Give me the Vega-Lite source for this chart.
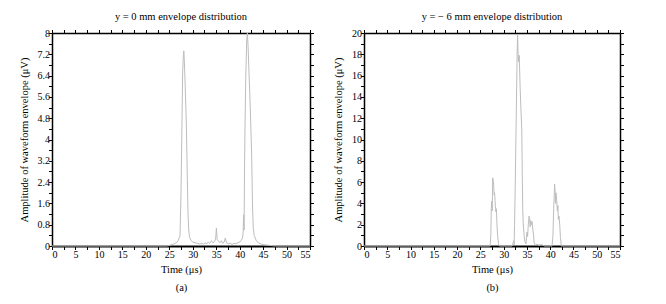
{
  "$schema": "https://vega.github.io/schema/vega-lite/v6.json",
  "padding": {"left": 19, "top": 11, "right": 5, "bottom": 5},
  "spacing": 19,
  "datasets": {
    "a": [
      {"t": 0, "v": 0}, {"t": 10, "v": 0}, {"t": 20, "v": 0}, {"t": 24.5, "v": 0},
      {"t": 25, "v": 0.02}, {"t": 25.5, "v": 0.05}, {"t": 26, "v": 0.08}, {"t": 26.5, "v": 0.12},
      {"t": 26.9, "v": 0.2}, {"t": 27.1, "v": 0.3}, {"t": 27.3, "v": 0.4}, {"t": 27.5, "v": 2.0},
      {"t": 27.7, "v": 4.5}, {"t": 27.85, "v": 6.5}, {"t": 28.0, "v": 7.15}, {"t": 28.1, "v": 7.33},
      {"t": 28.2, "v": 7.0}, {"t": 28.4, "v": 6.0}, {"t": 28.65, "v": 4.5}, {"t": 28.85, "v": 2.5},
      {"t": 29.0, "v": 1.2}, {"t": 29.15, "v": 0.6}, {"t": 29.3, "v": 0.35}, {"t": 29.6, "v": 0.22},
      {"t": 30, "v": 0.15}, {"t": 30.5, "v": 0.12}, {"t": 31, "v": 0.1}, {"t": 31.5, "v": 0.08},
      {"t": 32, "v": 0.1}, {"t": 32.3, "v": 0.06}, {"t": 32.6, "v": 0.12}, {"t": 33, "v": 0.08},
      {"t": 33.3, "v": 0.15}, {"t": 33.6, "v": 0.1}, {"t": 34, "v": 0.2}, {"t": 34.3, "v": 0.12},
      {"t": 34.7, "v": 0.18}, {"t": 34.9, "v": 0.3}, {"t": 35.05, "v": 0.68}, {"t": 35.2, "v": 0.25},
      {"t": 35.5, "v": 0.18}, {"t": 35.8, "v": 0.12}, {"t": 36.1, "v": 0.2}, {"t": 36.4, "v": 0.1},
      {"t": 36.7, "v": 0.15}, {"t": 36.95, "v": 0.3}, {"t": 37.2, "v": 0.12}, {"t": 37.6, "v": 0.08},
      {"t": 38, "v": 0.1}, {"t": 38.4, "v": 0.06}, {"t": 38.8, "v": 0.1}, {"t": 39.2, "v": 0.08},
      {"t": 39.6, "v": 0.12}, {"t": 40, "v": 0.15}, {"t": 40.3, "v": 0.2}, {"t": 40.6, "v": 0.3},
      {"t": 40.75, "v": 0.5}, {"t": 40.85, "v": 1.17}, {"t": 40.95, "v": 0.6}, {"t": 41.05, "v": 3.0},
      {"t": 41.15, "v": 4.5}, {"t": 41.3, "v": 6.3}, {"t": 41.5, "v": 7.7}, {"t": 41.65, "v": 8.0},
      {"t": 41.8, "v": 7.5}, {"t": 42.0, "v": 6.5}, {"t": 42.3, "v": 5.0}, {"t": 42.55, "v": 3.5},
      {"t": 42.75, "v": 1.5}, {"t": 42.9, "v": 0.7}, {"t": 43.1, "v": 0.4}, {"t": 43.5, "v": 0.22},
      {"t": 44, "v": 0.12}, {"t": 44.5, "v": 0.08}, {"t": 45, "v": 0.05}, {"t": 46, "v": 0.03},
      {"t": 47, "v": 0.01}, {"t": 48, "v": 0}, {"t": 55, "v": 0}
    ],
    "b": [
      {"t": 0, "v": 0}, {"t": 27.1, "v": 0}, {"t": 27.25, "v": 1.0}, {"t": 27.35, "v": 3.5},
      {"t": 27.45, "v": 4.2}, {"t": 27.55, "v": 3.3}, {"t": 27.65, "v": 6.4}, {"t": 27.75, "v": 6.2},
      {"t": 27.85, "v": 5.8}, {"t": 27.95, "v": 4.8}, {"t": 28.05, "v": 5.0}, {"t": 28.15, "v": 4.3},
      {"t": 28.25, "v": 3.5}, {"t": 28.35, "v": 3.2}, {"t": 28.45, "v": 3.5}, {"t": 28.55, "v": 2.2},
      {"t": 28.7, "v": 1.0}, {"t": 28.9, "v": 0.2}, {"t": 29.1, "v": 0}, {"t": 31.8, "v": 0},
      {"t": 32.0, "v": 0.2}, {"t": 32.15, "v": 0.5}, {"t": 32.25, "v": 0.1}, {"t": 32.35, "v": 2.0},
      {"t": 32.5, "v": 6.0}, {"t": 32.7, "v": 12}, {"t": 32.9, "v": 18}, {"t": 33.0, "v": 19.8},
      {"t": 33.1, "v": 18.1}, {"t": 33.2, "v": 17.3}, {"t": 33.35, "v": 17.9}, {"t": 33.55, "v": 14.8},
      {"t": 33.75, "v": 12.5}, {"t": 33.9, "v": 10.9}, {"t": 34.0, "v": 6.8}, {"t": 34.1, "v": 3.5},
      {"t": 34.2, "v": 2.2}, {"t": 34.4, "v": 1.0}, {"t": 34.55, "v": 0.4}, {"t": 34.8, "v": 0.2},
      {"t": 35.0, "v": 1.3}, {"t": 35.15, "v": 0.9}, {"t": 35.3, "v": 2.0}, {"t": 35.45, "v": 2.8},
      {"t": 35.6, "v": 2.6}, {"t": 35.7, "v": 1.8}, {"t": 35.8, "v": 2.4}, {"t": 35.95, "v": 2.0},
      {"t": 36.1, "v": 2.3}, {"t": 36.25, "v": 1.6}, {"t": 36.4, "v": 1.2}, {"t": 36.55, "v": 0.3},
      {"t": 36.8, "v": 0.1}, {"t": 37.2, "v": 0.15}, {"t": 37.6, "v": 0.08}, {"t": 38, "v": 0.12},
      {"t": 38.4, "v": 0.1}, {"t": 38.7, "v": 0}, {"t": 40.4, "v": 0}, {"t": 40.6, "v": 1.0},
      {"t": 40.75, "v": 3.5}, {"t": 40.85, "v": 4.5}, {"t": 40.95, "v": 5.8}, {"t": 41.05, "v": 5.2},
      {"t": 41.15, "v": 4.0}, {"t": 41.25, "v": 5.0}, {"t": 41.4, "v": 4.3}, {"t": 41.55, "v": 3.3},
      {"t": 41.65, "v": 3.8}, {"t": 41.75, "v": 2.5}, {"t": 41.9, "v": 2.8}, {"t": 42.05, "v": 2.0},
      {"t": 42.2, "v": 0.8}, {"t": 42.4, "v": 0}, {"t": 55, "v": 0}
    ]
  },
  "hconcat": [
    {
      "width": 258,
      "height": 213,
      "title": {"text": "y = 0  mm envelope distribution", "offset": 6},
      "data": {"name": "a"},
      "resolve": {"axis": {"x": "independent", "y": "independent"}},
      "layer": [
        {
          "mark": {"type": "line", "color": "#bdbdbd", "strokeWidth": 1},
          "encoding": {
            "x": {
              "field": "t", "type": "quantitative",
              "scale": {"domain": [0, 55], "nice": false},
              "axis": {
                "orient": "bottom",
                "title": ["Time (μs)", "(a)"],
                "titleLineHeight": 18,
                "titlePadding": 5,
                "values": [0, 2.5, 5, 7.5, 10, 12.5, 15, 17.5, 20, 22.5, 25, 27.5, 30, 32.5, 35, 37.5, 40, 42.5, 45, 47.5, 50, 52.5, 55],
                "labelExpr": "datum.value % 5 == 0 ? datum.label : ''",
                "tickSize": 3.5,
                "labelPadding": -0.5,
                "domainWidth": 2,
                "encode": {"ticks": {"update": {"y2": {"signal": "datum.value % 5 == 0 ? -3.5 : -2"}}}}
              }
            },
            "y": {
              "field": "v", "type": "quantitative",
              "scale": {"domain": [0, 8], "nice": false},
              "axis": {
                "orient": "left",
                "title": "Amplitude of waveform envelope (μV)",
                "titlePadding": 8,
                "values": [0, 0.4, 0.8, 1.2, 1.6, 2, 2.4, 2.8, 3.2, 3.6, 4, 4.4, 4.8, 5.2, 5.6, 6, 6.4, 6.8, 7.2, 7.6, 8],
                "format": "~g",
                "labelExpr": "round(datum.value * 10) % 8 == 0 ? datum.label : ''",
                "tickSize": 3.5,
                "labelPadding": -1,
                "domainWidth": 1.5,
                "encode": {"ticks": {"update": {"x2": {"signal": "round(datum.value * 10) % 8 == 0 ? 3.5 : 2"}}}}
              }
            }
          }
        },
        {
          "mark": {"type": "line", "opacity": 0},
          "encoding": {
            "x": {
              "field": "t", "type": "quantitative",
              "axis": {
                "orient": "top", "title": null, "labels": false,
                "values": [0, 2.5, 5, 7.5, 10, 12.5, 15, 17.5, 20, 22.5, 25, 27.5, 30, 32.5, 35, 37.5, 40, 42.5, 45, 47.5, 50, 52.5, 55],
                "tickSize": 3.5, "domainWidth": 1.5,
                "encode": {"ticks": {"update": {"y2": {"signal": "datum.value % 5 == 0 ? 3.5 : 2"}}}}
              }
            },
            "y": {
              "field": "v", "type": "quantitative",
              "axis": {
                "orient": "right", "title": null, "labels": false,
                "values": [0, 0.4, 0.8, 1.2, 1.6, 2, 2.4, 2.8, 3.2, 3.6, 4, 4.4, 4.8, 5.2, 5.6, 6, 6.4, 6.8, 7.2, 7.6, 8],
                "tickSize": 3.5, "domainWidth": 1.5,
                "encode": {"ticks": {"update": {"x2": {"signal": "round(datum.value * 10) % 8 == 0 ? -3.5 : -2"}}}}
              }
            }
          }
        }
      ]
    },
    {
      "width": 256,
      "height": 213,
      "title": {"text": "y = − 6  mm envelope distribution", "offset": 6},
      "data": {"name": "b"},
      "resolve": {"axis": {"x": "independent", "y": "independent"}},
      "layer": [
        {
          "mark": {"type": "line", "color": "#bdbdbd", "strokeWidth": 1},
          "encoding": {
            "x": {
              "field": "t", "type": "quantitative",
              "scale": {"domain": [0, 55], "nice": false},
              "axis": {
                "orient": "bottom",
                "title": ["Time (μs)", "(b)"],
                "titleLineHeight": 18,
                "titlePadding": 5,
                "values": [0, 2.5, 5, 7.5, 10, 12.5, 15, 17.5, 20, 22.5, 25, 27.5, 30, 32.5, 35, 37.5, 40, 42.5, 45, 47.5, 50, 52.5, 55],
                "labelExpr": "datum.value % 5 == 0 ? datum.label : ''",
                "tickSize": 3.5,
                "labelPadding": -0.5,
                "domainWidth": 2,
                "encode": {"ticks": {"update": {"y2": {"signal": "datum.value % 5 == 0 ? -3.5 : -2"}}}}
              }
            },
            "y": {
              "field": "v", "type": "quantitative",
              "scale": {"domain": [0, 20], "nice": false},
              "axis": {
                "orient": "left",
                "title": "Amplitude of waveform envelope (μV)",
                "titlePadding": 8,
                "values": [0, 1, 2, 3, 4, 5, 6, 7, 8, 9, 10, 11, 12, 13, 14, 15, 16, 17, 18, 19, 20],
                "labelExpr": "datum.value % 2 == 0 ? datum.label : ''",
                "tickSize": 3.5,
                "labelPadding": -1,
                "domainWidth": 1.5,
                "encode": {"ticks": {"update": {"x2": {"signal": "datum.value % 2 == 0 ? 3.5 : 2"}}}}
              }
            }
          }
        },
        {
          "mark": {"type": "line", "opacity": 0},
          "encoding": {
            "x": {
              "field": "t", "type": "quantitative",
              "axis": {
                "orient": "top", "title": null, "labels": false,
                "values": [0, 2.5, 5, 7.5, 10, 12.5, 15, 17.5, 20, 22.5, 25, 27.5, 30, 32.5, 35, 37.5, 40, 42.5, 45, 47.5, 50, 52.5, 55],
                "tickSize": 3.5, "domainWidth": 1.5,
                "encode": {"ticks": {"update": {"y2": {"signal": "datum.value % 5 == 0 ? 3.5 : 2"}}}}
              }
            },
            "y": {
              "field": "v", "type": "quantitative",
              "axis": {
                "orient": "right", "title": null, "labels": false,
                "values": [0, 1, 2, 3, 4, 5, 6, 7, 8, 9, 10, 11, 12, 13, 14, 15, 16, 17, 18, 19, 20],
                "tickSize": 3.5, "domainWidth": 1.5,
                "encode": {"ticks": {"update": {"x2": {"signal": "datum.value % 2 == 0 ? -3.5 : -2"}}}}
              }
            }
          }
        }
      ]
    }
  ],
  "config": {
    "view": {"stroke": null},
    "font": "Liberation Serif",
    "axis": {
      "labelFont": "Liberation Serif", "titleFont": "Liberation Serif",
      "labelFontSize": 10, "titleFontSize": 10.5, "titleFontWeight": "normal",
      "labelColor": "#000", "titleColor": "#000", "domainColor": "#000", "tickColor": "#000",
      "grid": false, "ticks": true, "tickWidth": 1
    },
    "title": {"font": "Liberation Serif", "fontSize": 10.5, "fontWeight": "normal", "color": "#000"}
  }
}
